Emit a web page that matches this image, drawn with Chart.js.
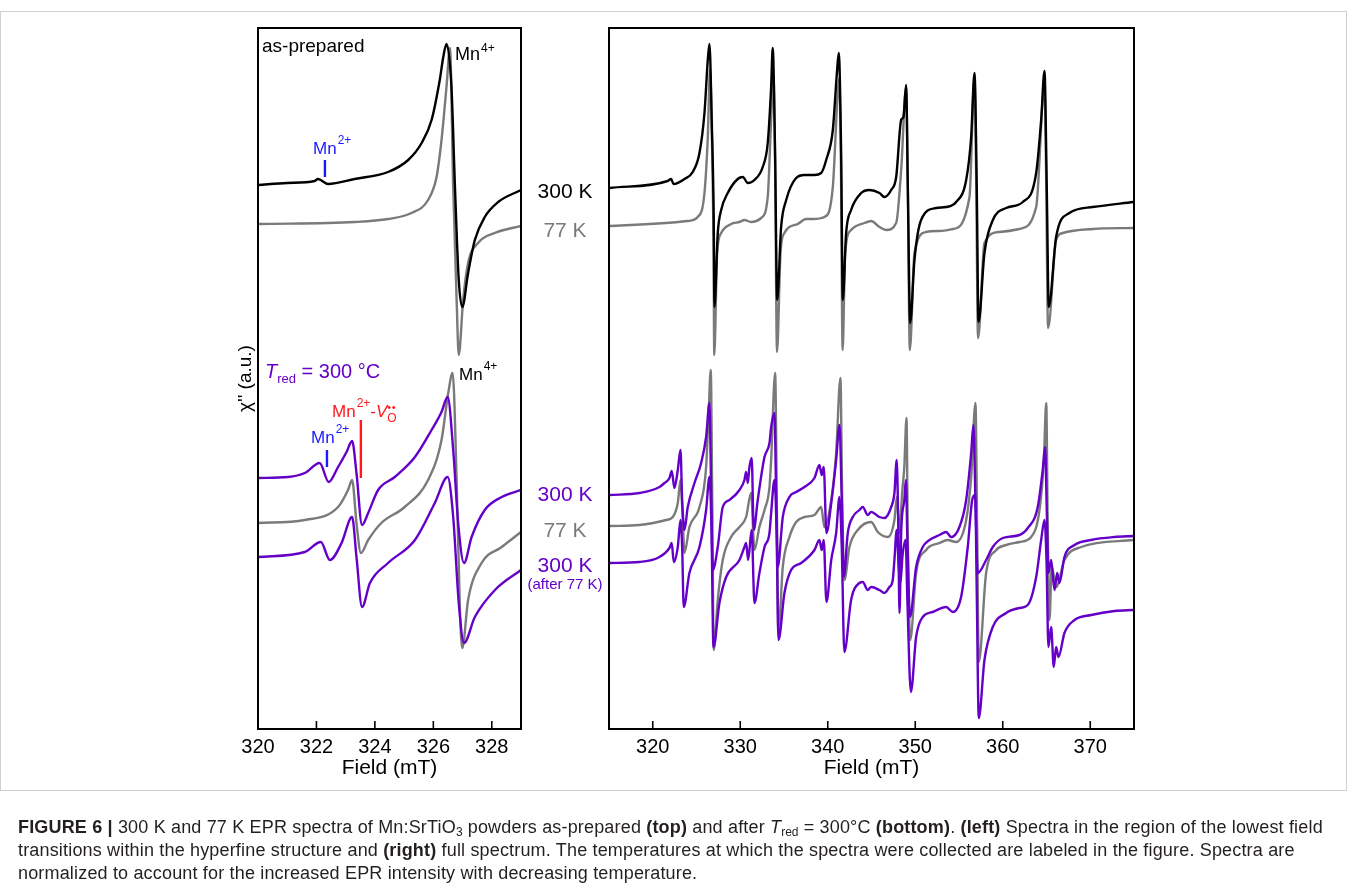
<!DOCTYPE html>
<html><head><meta charset="utf-8">
<script src="https://cdn.jsdelivr.net/npm/chart.js@4.4.0/dist/chart.umd.min.js"></script>
<style>
html,body{margin:0;padding:0;background:#fff;}
body{width:1347px;height:891px;position:relative;overflow:hidden;font-family:"Liberation Sans",Arial,Helvetica,sans-serif;color:#000;}
canvas{position:absolute;left:0;top:0;}
#frame{position:absolute;left:0;top:11px;width:1345px;height:778px;border:1px solid #cfcfcf;}
.lbl{position:absolute;white-space:nowrap;line-height:1;}
.sp{position:relative;font-size:12px;margin-left:1px;}
.mid{position:absolute;left:505px;width:120px;text-align:center;line-height:1;white-space:nowrap;font-size:21px;}
#cap{position:absolute;left:18px;top:816px;font-size:18px;letter-spacing:0.17px;line-height:23px;color:#231f20;white-space:nowrap;}
#cap sub{font-size:12px;vertical-align:-3px;line-height:0;letter-spacing:0;}
</style></head><body>
<div id="frame"></div>
<canvas id="cL" width="1347" height="891"></canvas>
<canvas id="cR" width="1347" height="891"></canvas>

<span class="lbl" style="left:262px;top:36px;font-size:19px;">as-prepared</span>
<span class="lbl" style="left:455px;top:45px;font-size:18px;">Mn<span class="sp" style="top:-8px;">4+</span></span>
<span class="lbl" style="left:313px;top:140px;font-size:17px;color:#1a1aff;">Mn<span class="sp" style="top:-10px;">2+</span></span>

<span class="lbl" style="left:265px;top:361px;font-size:20px;color:#6400c8;"><i>T</i><span style="font-size:13px;position:relative;top:5px;">red</span> = 300 °C</span>
<span class="lbl" style="left:459px;top:366px;font-size:17px;">Mn<span class="sp" style="top:-10px;">4+</span></span>
<span class="lbl" style="left:332px;top:403px;font-size:17px;color:#ff1a1a;">Mn<span class="sp" style="top:-10px;">2+</span>-<i>V</i><span style="position:relative;display:inline-block;font-size:12px;top:5px;">O<span style="position:absolute;left:0px;top:-10px;font-size:11px;letter-spacing:0.5px;line-height:1;">••</span></span></span>
<span class="lbl" style="left:311px;top:429px;font-size:17px;color:#1a1aff;">Mn<span class="sp" style="top:-10px;">2+</span></span>

<div class="mid" style="top:180px;color:#000;">300 K</div>
<div class="mid" style="top:219px;color:#7a7a7a;">77 K</div>
<div class="mid" style="top:483px;color:#6400c8;">300 K</div>
<div class="mid" style="top:519px;color:#7a7a7a;">77 K</div>
<div class="mid" style="top:554px;color:#6400c8;">300 K</div>
<div class="mid" style="top:576px;font-size:15px;color:#6400c8;">(after 77 K)</div>

<div id="cap"><b>FIGURE 6 |</b> 300 K and 77 K EPR spectra of Mn:SrTiO<sub>3</sub> powders as-prepared <b>(top)</b> and after <i>T</i><sub>red</sub> = 300°C <b>(bottom)</b>. <b>(left)</b> Spectra in the region of the lowest field<br>transitions within the hyperfine structure and <b>(right)</b> full spectrum. The temperatures at which the spectra were collected are labeled in the figure. Spectra are<br>normalized to account for the increased EPR intensity with decreasing temperature.</div>

<script>
// ---------- data (field in mT, signal in arbitrary units) ----------
const leftTicks = [320, 322, 324, 326, 328];
const rightTicks = [320, 330, 340, 350, 360, 370];

// Left panel (low-field region)
const asPrep300L = [[320,544],[321,546],[321.94,548],[322.05,550],[322.4,545],[323.31,550],[324.45,557],[325.14,569],[325.6,586],[325.94,609],[326.22,649],[326.34,672],[326.45,685],[326.62,642],[326.74,542],[326.87,449],[326.99,422],[327.19,456],[327.42,489],[327.76,512],[328.22,527],[329,539]];
const asPrep77L = [[320,505],[323.31,507],[324.45,510],[325.25,516],[325.82,529],[326.11,552],[326.28,589],[326.45,642],[326.57,681],[326.68,542],[326.8,426],[326.87,374],[327.02,429],[327.19,466],[327.53,486],[328.1,496],[329,503]];
const red300L = [[320,251],[321.03,252],[321.6,256],[322.11,266],[322.42,247],[322.74,262],[323.03,277],[323.22,288],[323.37,256],[323.56,204],[323.77,216],[324.11,239],[324.68,252],[325.37,272],[325.94,299],[326.28,317],[326.49,332],[326.68,279],[326.85,206],[327.05,166],[327.31,192],[327.76,219],[328.34,232],[329,239]];
const red77L = [[320,206],[321.6,209],[322.74,222],[323.08,239],[323.22,249],[323.37,206],[323.52,176],[323.77,189],[324.22,206],[325.02,222],[325.82,249],[326.28,289],[326.51,336],[326.66,356],[326.8,246],[326.91,119],[326.99,81],[327.19,129],[327.65,166],[328.34,182],[329,197]];
const red300bL = [[320,172],[321.6,177],[322.15,187],[322.46,169],[322.86,186],[323.22,212],[323.37,172],[323.56,122],[323.83,146],[324.45,166],[325.37,189],[326.05,226],[326.49,252],[326.68,212],[326.87,126],[327.05,86],[327.42,112],[328.11,139],[329,159]];

// Right panel (full spectrum)
const asPrep300R = [[315.05,541],[321.71,548],[322.1,550],[322.37,545],[323.62,550],[324.57,557],[325.34,576],[325.91,616],[326.29,669],[326.48,685],[326.74,609],[326.97,509],[327.05,422],[327.43,496],[327.82,519],[328.57,536],[329.71,550],[330.29,552],[330.86,546],[331.62,549],[332.57,562],[333.14,586],[333.53,642],[333.71,681],[333.98,576],[334.22,429],[334.67,502],[335.25,529],[336.39,551],[337.34,554],[338.48,554],[339.25,556],[339.82,569],[340.58,599],[341.07,659],[341.26,676],[341.53,576],[341.72,429],[342.1,496],[342.67,519],[343.82,536],[344.77,539],[345.91,536],[346.48,532],[347.25,539],[347.82,552],[348.39,609],[348.65,612],[348.96,644],[349.15,542],[349.42,406],[349.91,469],[350.67,509],[352.39,521],[353.53,522],[354.67,527],[355.82,549],[356.39,592],[356.77,656],[357.03,542],[357.23,407],[357.91,476],[358.87,509],[360.39,521],[362.29,527],[363.82,556],[364.39,609],[364.77,658],[365.03,542],[365.26,422],[366.1,492],[367.62,516],[370.29,522],[374.94,527]];
const asPrep77R = [[315.05,503],[324,508],[325.14,512],[325.91,536],[326.29,592],[326.55,660],[326.74,600],[326.95,480],[327.03,374],[327.36,476],[327.82,496],[328.96,505],[329.91,507],[330.48,509],[331.24,507],[332.39,511],[333.14,532],[333.53,609],[333.8,650],[333.98,570],[334.2,377],[334.6,476],[335.05,496],[336.57,505],[337.53,510],[338.29,510],[339.62,512],[340.58,542],[341.1,630],[341.3,650],[341.5,570],[341.7,379],[341.99,476],[342.67,499],[344.2,506],[344.96,508],[345.91,502],[346.67,499],[347.82,506],[348.39,559],[348.96,642],[349.15,540],[349.38,379],[349.91,476],[351.24,497],[352.77,498],[354.29,500],[356.2,532],[356.77,652],[356.95,560],[357.18,391],[357.91,486],[359.63,497],[361.91,500],[363.82,522],[364.77,642],[364.95,560],[365.18,401],[366.1,489],[366.86,496],[370.29,500],[374.94,501]];
const red300R = [[315.05,234],[318.48,236],[320.77,242],[321.34,246],[321.91,251],[322.17,258],[322.48,241],[322.86,259],[323.17,279],[323.36,229],[323.62,199],[324,222],[324.77,246],[325.53,266],[326.1,292],[326.48,326],[326.67,242],[326.86,159],[327.43,182],[328,222],[328.77,229],[329.91,239],[330.48,249],[330.67,257],[330.86,246],[331.05,262],[331.31,271],[331.54,199],[332,229],[332.77,272],[333.34,286],[333.53,302],[333.91,316],[334.1,236],[334.29,162],[334.86,212],[335.62,232],[336.39,237],[337.34,242],[338.48,251],[339.05,264],[339.31,254],[339.54,262],[339.85,196],[340.4,226],[340.96,269],[341.34,304],[341.6,229],[341.83,152],[342.29,196],[342.86,212],[343.62,219],[344,222],[344.57,214],[344.96,217],[345.91,212],[346.48,211],[347.25,222],[347.62,236],[347.88,269],[348.05,209],[348.2,116],[348.4,199],[348.75,229],[348.93,249],[349.1,189],[349.4,112],[350.1,162],[350.86,182],[351.62,189],[352.77,194],[353.53,197],[354.1,192],[355.05,202],[355.82,229],[356.39,276],[356.65,304],[356.88,229],[357.14,156],[358.1,169],[358.86,182],[360,191],[361.91,194],[362.86,201],[364,222],[364.57,259],[364.84,282],[365.03,219],[365.22,156],[365.53,169],[365.91,139],[366.22,156],[366.48,146],[367.05,172],[368.2,184],[370.1,189],[372.77,192],[374.97,193]];
const red77R = [[315.05,203],[318.48,204],[321.53,209],[322.29,212],[322.86,226],[323.17,249],[323.43,209],[323.62,176],[324.19,202],[325.34,222],[326.1,262],[326.4,319],[326.63,359],[326.79,236],[326.97,79],[327.43,129],[328,169],[328.96,192],[329.91,202],[330.67,212],[331.24,236],[331.62,179],[332.19,202],[332.77,219],[333.34,242],[333.53,269],[333.99,356],[334.17,236],[334.37,96],[334.86,162],[335.62,192],[336.39,207],[337.34,212],[338.48,214],[339.25,222],[339.62,202],[340.4,229],[340.96,276],[341.45,351],[341.64,236],[341.9,149],[342.48,182],[343.43,199],[344.96,207],[345.72,197],[346.86,192],[347.62,209],[347.9,232],[348.2,196],[348.5,236],[348.75,262],[349,311],[349.15,189],[349.42,89],[350.1,156],[351.24,179],[352.77,186],[353.71,189],[354.67,187],[355.82,209],[356.39,252],[356.88,326],[357.07,202],[357.26,67],[358.1,156],[359.25,179],[360.39,184],[361.91,187],[363.25,192],[364.2,219],[364.7,269],[364.97,326],[365.14,202],[365.34,109],[365.6,162],[366.1,142],[367.05,169],[368.96,182],[374.97,189]];
const red300bR = [[315.05,166],[318.48,167],[320.77,172],[321.91,181],[322.17,186],[322.4,167],[322.86,182],[323.17,209],[323.36,182],[323.54,122],[324.19,156],[325.34,182],[326.1,219],[326.48,252],[326.71,202],[326.94,82],[327.62,126],[328.39,152],[329.91,169],[330.48,182],[330.67,186],[330.9,169],[331.31,199],[331.62,126],[332.19,156],[332.77,182],[333.34,196],[333.53,216],[333.91,249],[334.14,202],[334.37,89],[335.05,136],[335.81,159],[336.96,166],[338.48,179],[339.05,189],[339.31,179],[339.54,189],[339.85,127],[340.4,169],[340.96,196],[341.34,232],[341.6,182],[341.9,77],[342.67,129],[343.62,146],[344,147],[344.57,139],[344.96,142],[345.91,139],[346.48,136],[347.05,142],[347.43,149],[347.62,169],[347.88,199],[348.1,164],[348.3,146],[348.55,174],[348.9,189],[349.1,129],[349.5,37],[350.1,92],[350.86,112],[352,117],[353.53,122],[354.29,117],[355.24,132],[356,182],[356.51,229],[356.85,234],[357.03,136],[357.26,11],[357.91,69],[358.86,102],[360.39,116],[361.91,121],[362.86,124],[363.82,152],[364.39,189],[364.77,209],[365,169],[365.22,82],[365.53,102],[365.83,62],[366.1,82],[366.37,72],[367.05,96],[368.2,109],[370.1,114],[372.77,118],[374.97,119]];

// Line markers (field, from, to) in a.u.
const markersL = [
  {field:322.29, from:552, to:569, color:'#1a1aff'},
  {field:322.36, from:262, to:279, color:'#1a1aff'},
  {field:323.52, from:251, to:309, color:'#ff1a1a'}
];

// ---------- styles ----------
const BLACK = '#000000', GRAY = '#7a7a7a', PURPLE = '#6400c8';
const TICKFONT = '"Liberation Sans",Arial,sans-serif';
const toPts = a => a.map(p => ({x:p[0], y:p[1]}));
const ds = (arr, color) => ({data: toPts(arr), borderColor: color, borderWidth: 2.4, showLine: true, pointRadius: 0, fill: false, cubicInterpolationMode: 'monotone'});

const framePlugin = {
  id: 'frameTicks',
  afterDraw(chart) {
    const {ctx, chartArea: a, scales} = chart;
    ctx.save();
    ctx.strokeStyle = '#000';
    ctx.lineWidth = 2;
    ctx.strokeRect(a.left, a.top, a.right - a.left, a.bottom - a.top);
    ctx.lineWidth = 1.6;
    scales.x.ticks.forEach(t => {
      const x = scales.x.getPixelForValue(t.value);
      ctx.beginPath(); ctx.moveTo(x, a.bottom); ctx.lineTo(x, a.bottom - 8); ctx.stroke();
    });
    const mk = chart.options.plugins.frameTicks && chart.options.plugins.frameTicks.markers || [];
    ctx.lineWidth = 2.4;
    mk.forEach(m => {
      const x = scales.x.getPixelForValue(m.field);
      ctx.strokeStyle = m.color;
      ctx.beginPath(); ctx.moveTo(x, scales.y.getPixelForValue(m.from)); ctx.lineTo(x, scales.y.getPixelForValue(m.to)); ctx.stroke();
    });
    ctx.restore();
  }
};

function xScale(min, max, ticks) {
  return {
    type: 'linear', min, max,
    afterBuildTicks: s => { s.ticks = ticks.map(v => ({value: v})); },
    afterFit: s => { s.height = 52; },
    grid: {display: false, drawTicks: false},
    border: {display: false},
    ticks: {font: {family: TICKFONT, size: 20}, color: '#000', padding: 6, maxRotation: 0, autoSkip: false, includeBounds: false},
    title: {display: true, text: 'Field (mT)', font: {family: TICKFONT, size: 21}, color: '#000', padding: {top: 0, bottom: 0}}
  };
}

function build(id, xmin, xmax, ticks, datasets, yAxis, padding, markers) {
  return new Chart(document.getElementById(id), {
    type: 'scatter',
    data: {datasets},
    options: {
      responsive: false, animation: false, devicePixelRatio: 1,
      layout: {padding},
      plugins: {legend: {display: false}, tooltip: {enabled: false}, frameTicks: {markers}},
      scales: {x: xScale(xmin, xmax, ticks), y: yAxis}
    },
    plugins: [framePlugin]
  });
}

build('cL', 320, 329, leftTicks,
  [ds(asPrep300L, BLACK), ds(asPrep77L, GRAY), ds(red300L, PURPLE), ds(red300bL, PURPLE), ds(red77L, GRAY)],
  {min: 0, max: 701, display: true, afterFit: s => { s.width = 24; },
   ticks: {display: false}, grid: {display: false, drawTicks: false}, border: {display: false},
   title: {display: true, text: "χ'' (a.u.)", font: {family: '"Liberation Sans",Arial,sans-serif', size: 19}, color: '#000', padding: 0}},
  {left: 234, right: 1347 - 521, top: 28, bottom: 891 - 729 - 52},
  markersL);

build('cR', 315, 375, rightTicks,
  [ds(asPrep300R, BLACK), ds(asPrep77R, GRAY), ds(red300R, PURPLE), ds(red300bR, PURPLE), ds(red77R, GRAY)],
  {min: 0, max: 701, display: false},
  {left: 609, right: 1347 - 1134, top: 28, bottom: 891 - 729 - 52},
  []);
</script>
</body></html>
